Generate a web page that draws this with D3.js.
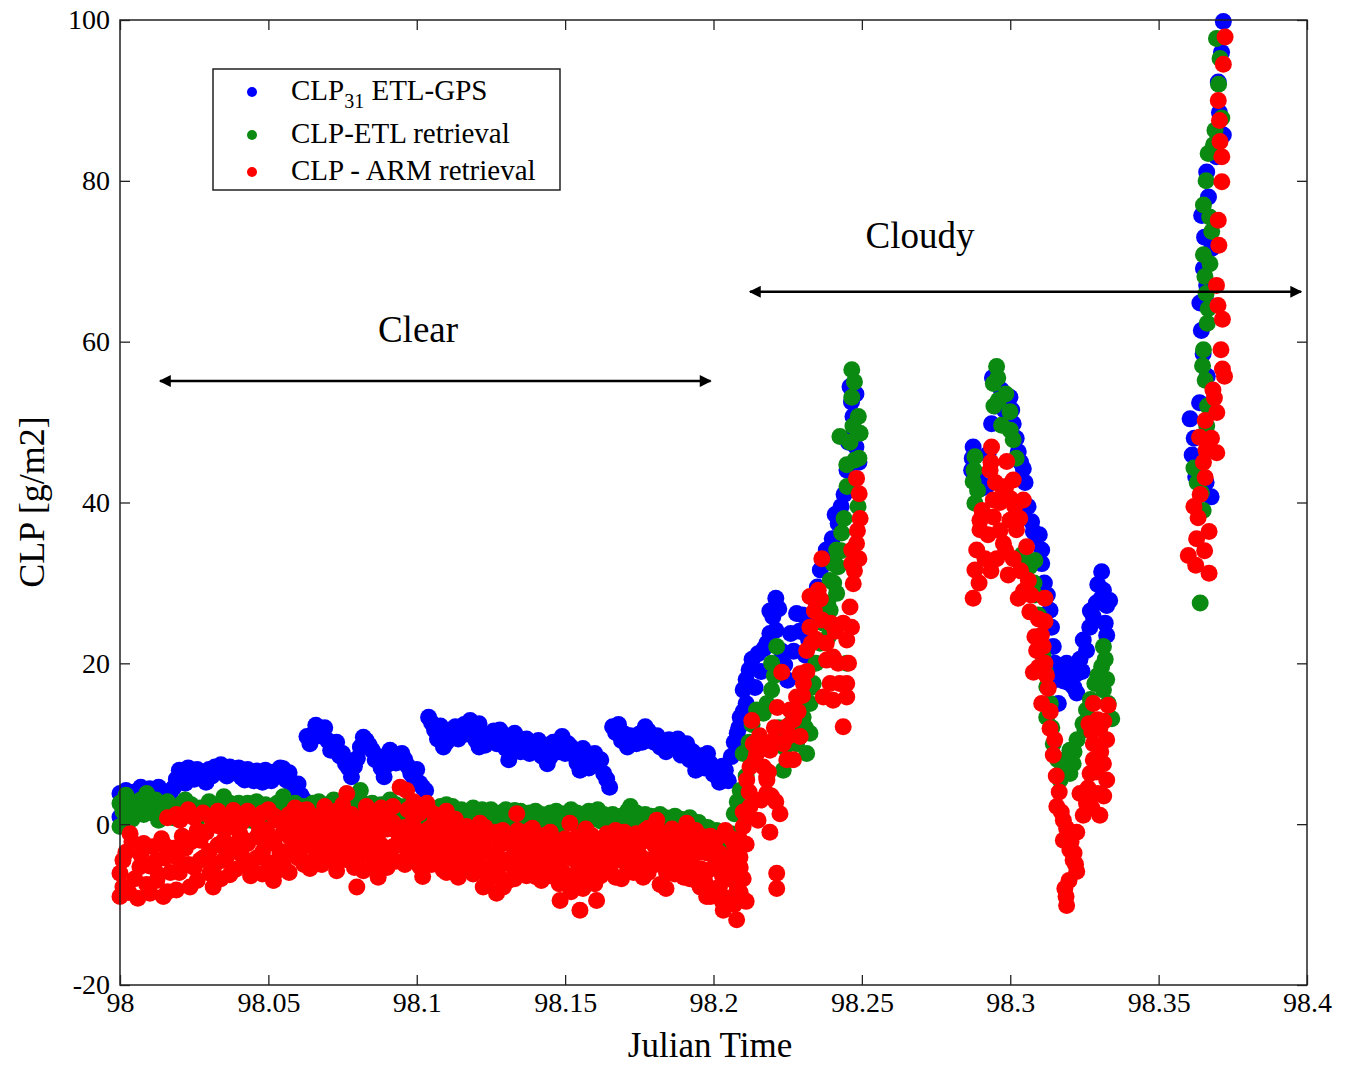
<!DOCTYPE html>
<html>
<head>
<meta charset="utf-8">
<script src="https://cdn.jsdelivr.net/npm/d3@7"></script>
<style>
  body { margin: 0; background: #fff; }
  svg { font-family: "Liberation Serif", "Times New Roman", serif; }
</style>
</head>
<body>
<div id="chart"></div>
<script>
// page size and the plot box inside it
const WIDTH = 1346, HEIGHT = 1067;
const PLOT = { LEFT: 120, RIGHT: 1307, TOP: 20, BOTTOM: 985 };

// axis ticks
const xTicks = [98, 98.05, 98.1, 98.15, 98.2, 98.25, 98.3, 98.35, 98.4];
const yTicks = [-20, 0, 20, 40, 60, 80, 100];

// [julian time, CLP g/m2]
const etlGps = [
  [98.000,0.9],[98.000,3.8],[98.003,3.5],[98.005,4.0],[98.008,4.2],[98.010,4.4],[98.012,3.9],[98.015,3.6],
  [98.018,4.5],[98.020,6.7],[98.022,5.1],[98.024,6.5],[98.027,5.9],[98.030,6.8],[98.032,7.1],[98.035,6.3],
  [98.037,7.1],[98.039,6.6],[98.042,5.5],[98.044,6.2],[98.047,6.3],[98.050,6.0],[98.052,6.5],[98.055,6.9],
  [98.056,5.5],[98.059,4.2],[98.061,3.6],[98.063,10.9],[98.064,10.0],[98.066,12.3],[98.068,11.5],[98.070,10.4],
  [98.072,9.6],[98.074,8.5],[98.076,7.5],[98.078,5.9],[98.081,9.6],[98.083,10.4],[98.085,9.2],[98.087,8.4],
  [98.089,5.9],[98.092,8.8],[98.094,8.2],[98.096,8.0],[98.098,6.3],[98.101,5.1],[98.103,4.2],[98.104,13.3],
  [98.106,11.7],[98.109,9.6],[98.111,11.0],[98.113,12.1],[98.115,11.5],[98.118,12.9],[98.121,12.5],[98.121,9.6],
  [98.124,10.4],[98.125,10.9],[98.128,11.7],[98.131,8.0],[98.133,11.3],[98.136,10.5],[98.139,10.0],[98.142,8.5],
  [98.144,7.5],[98.147,9.2],[98.149,10.9],[98.152,9.6],[98.155,6.7],[98.157,8.0],[98.159,8.4],[98.163,6.3],
  [98.165,4.6],[98.166,12.1],[98.169,10.4],[98.172,11.0],[98.174,10.0],[98.177,12.1],[98.179,11.0],[98.182,9.6],
  [98.185,10.5],[98.187,9.6],[98.191,10.0],[98.194,6.7],[98.196,8.5],[98.199,7.5],[98.201,6.0],[98.204,6.7],
  [98.206,8.4],[98.208,11.3],[98.209,13.3],[98.210,16.7],[98.211,15.0],[98.212,19.2],[98.215,21.2],[98.219,23.7],
  [98.220,25.8],[98.221,24.1],[98.221,28.1],[98.225,17.9],[98.226,23.7],[98.228,26.2],[98.231,21.0],[98.233,25.0],
  [98.236,31.6],[98.238,34.1],[98.239,33.0],[98.242,37.4],[98.243,39.5],[98.245,44.0],[98.246,54.4],[98.247,50.7],
  [98.248,46.9],
  [98.001,2.5],[98.002,4.2],[98.004,3.2],[98.006,3.8],[98.007,4.6],[98.009,3.6],[98.011,4.1],[98.013,4.6],
  [98.014,3.4],[98.016,4.0],[98.017,3.2],[98.019,5.6],[98.021,6.0],[98.023,7.0],[98.025,5.6],[98.026,6.8],
  [98.028,6.2],[98.029,5.2],[98.031,6.0],[98.033,6.6],[98.034,7.4],[98.036,6.0],[98.038,6.4],[98.040,7.0],
  [98.041,5.8],[98.043,6.8],[98.045,5.4],[98.046,6.6],[98.048,5.2],[98.049,6.7],[98.051,5.4],[98.053,6.0],
  [98.054,7.0],[98.057,6.4],[98.058,4.8],[98.060,5.0],[98.062,3.0],[98.065,11.2],[98.067,11.0],[98.069,12.0],
  [98.071,9.2],[98.073,10.2],[98.075,8.8],[98.077,7.0],[98.079,7.2],[98.080,8.2],[98.082,10.8],[98.084,9.8],
  [98.086,8.0],[98.088,7.0],[98.090,7.4],[98.091,9.2],[98.093,7.6],[98.095,8.8],[98.097,7.2],[98.099,5.8],
  [98.100,6.8],[98.102,4.6],[98.105,12.6],[98.107,10.6],[98.108,12.2],[98.110,10.2],[98.112,11.8],[98.114,10.6],
  [98.116,12.4],[98.117,11.2],[98.119,11.8],[98.120,10.4],[98.122,11.4],[98.123,9.8],[98.126,11.6],[98.127,10.0],
  [98.129,10.8],[98.130,9.4],[98.132,9.6],[98.134,10.4],[98.135,9.0],[98.137,10.6],[98.138,8.8],[98.140,9.2],
  [98.141,10.4],[98.143,9.8],[98.145,8.4],[98.146,10.2],[98.148,9.0],[98.150,8.8],[98.151,10.0],[98.153,8.6],
  [98.154,7.6],[98.156,9.4],[98.158,7.0],[98.160,8.8],[98.161,7.4],[98.162,8.0],[98.164,5.6],[98.167,11.4],
  [98.168,12.4],[98.170,11.2],[98.171,9.6],[98.173,10.8],[98.175,11.2],[98.176,10.2],[98.178,11.6],[98.180,10.2],
  [98.181,11.0],[98.183,10.2],[98.184,9.0],[98.186,9.8],[98.188,10.6],[98.189,8.6],[98.190,9.4],[98.192,8.0],
  [98.193,9.0],[98.195,7.6],[98.197,7.0],[98.198,8.8],[98.200,6.2],[98.202,5.2],[98.203,7.2],[98.205,5.4],
  [98.207,10.2],[98.2085,12.0],[98.210,14.0],[98.211,18.0],[98.213,20.5],[98.214,17.0],[98.216,19.0],[98.217,21.8],
  [98.218,22.5],[98.219,26.5],[98.222,26.8],[98.223,21.5],[98.224,19.8],[98.227,21.5],[98.229,24.0],[98.230,26.0],
  [98.232,23.0],[98.234,28.0],[98.235,29.5],[98.237,32.5],[98.240,35.5],[98.241,38.5],[98.244,41.0],[98.2455,47.5],
  [98.2465,52.5],[98.2475,49.0],[98.248,53.5],[98.249,45.0],
  [98.287,44.0],[98.2875,46.9],[98.292,42.0],[98.2937,49.8],[98.294,55.5],[98.2999,53.1],[98.301,49.8],[98.3027,46.3],
  [98.3044,44.2],[98.3072,37.6],[98.3089,35.7],[98.3106,34.1],[98.3106,32.4],[98.3134,26.6],[98.3139,24.5],[98.3145,22.1],
  [98.3162,15.0],[98.319,20.0],[98.3201,17.5],[98.3224,18.7],[98.3224,16.3],[98.3246,22.9],[98.3257,21.6],[98.3268,24.5],
  [98.328,25.8],[98.3308,31.4],[98.3314,29.1],[98.3325,27.2],[98.3325,23.5],
  [98.2872,45.5],[98.289,43.0],[98.2905,41.8],[98.2925,46.0],[98.295,52.0],[98.297,54.0],[98.298,51.5],[98.2995,50.5],
  [98.3005,51.5],[98.302,48.0],[98.3035,45.0],[98.305,42.5],[98.306,39.5],[98.3078,36.4],[98.3098,36.0],[98.3115,30.0],
  [98.3125,28.5],[98.315,20.0],[98.3155,18.0],[98.317,19.0],[98.318,17.8],[98.3195,18.5],[98.321,19.2],[98.3215,17.0],
  [98.3235,20.5],[98.3242,19.0],[98.327,26.5],[98.329,27.5],[98.3295,29.8],[98.3305,28.0],[98.332,25.0],[98.3335,27.8],
  [98.3718,99.8],[98.3701,92.3],[98.3718,85.7],[98.3662,81.1],[98.3645,75.7],[98.3679,71.6],[98.3651,69.1],[98.3639,64.8],
  [98.3657,65.3],[98.3644,61.4],[98.3664,55.7],[98.3638,52.4],[98.3606,50.4],[98.3613,45.9],[98.3677,40.7],
  [98.3712,96.0],[98.3705,88.5],[98.3695,83.0],[98.3668,78.0],[98.3655,73.0],[98.3662,67.0],[98.365,58.5],[98.362,48.0],
  [98.3625,43.2],[98.366,42.5]
];

const etlRetrieval = [
  [98.000,2.6],[98.000,-0.3],[98.003,1.0],[98.005,2.0],[98.007,3.0],[98.009,3.8],[98.011,1.4],[98.013,0.5],
  [98.015,1.8],[98.018,0.8],[98.021,2.6],[98.023,1.5],[98.026,0.6],[98.029,2.2],[98.032,1.0],[98.035,3.4],
  [98.038,1.5],[98.041,1.7],[98.044,0.5],[98.047,2.0],[98.050,1.0],[98.055,3.4],[98.058,1.8],[98.061,0.6],
  [98.065,2.6],[98.068,1.2],[98.072,3.0],[98.075,1.5],[98.081,4.2],[98.084,2.0],[98.087,0.8],[98.091,3.0],
  [98.095,1.6],[98.101,1.3],[98.105,0.4],[98.112,2.2],[98.116,0.8],[98.120,1.3],[98.123,0.1],[98.127,0.9],
  [98.133,1.7],[98.137,0.5],[98.144,0.9],[98.148,-0.2],[98.150,1.3],[98.155,0.4],[98.160,1.3],[98.165,0.2],
  [98.168,-0.3],[98.172,2.2],[98.176,0.8],[98.180,-0.7],[98.185,0.6],[98.190,0.5],[98.193,-0.6],[98.197,-0.8],
  [98.200,-1.6],[98.204,-2.8],[98.206,-1.2],[98.207,1.3],[98.209,4.2],[98.210,8.8],[98.2145,14.2],[98.2168,13.8],
  [98.2196,16.7],[98.2196,20.0],[98.2213,22.1],[98.2235,6.7],[98.2302,13.3],[98.2314,8.8],[98.2325,11.3],[98.2325,15.0],
  [98.2336,17.5],[98.2387,23.3],[98.2393,26.6],[98.2393,30.3],[98.2403,32.4],[98.2415,34.1],[98.2415,28.7],[98.2432,36.2],
  [98.2426,48.2],[98.2449,44.7],[98.2449,20.0],[98.2466,56.5],[98.2466,53.1],[98.2477,45.3],[98.2487,39.5],[98.2488,50.7],
  [98.2494,48.6],
  [98.001,1.6],[98.002,3.6],[98.004,0.6],[98.006,2.8],[98.008,1.2],[98.010,2.6],[98.012,3.0],[98.014,1.0],
  [98.016,2.8],[98.017,1.2],[98.019,2.0],[98.020,1.0],[98.022,3.0],[98.024,2.4],[98.025,1.0],[98.027,2.0],
  [98.028,1.2],[98.030,2.8],[98.031,1.6],[98.033,2.4],[98.034,0.8],[98.036,2.0],[98.037,2.6],[98.039,0.8],
  [98.040,2.6],[98.042,1.0],[98.043,2.6],[98.045,1.4],[98.046,2.8],[98.048,1.2],[98.049,2.4],[98.051,1.8],
  [98.052,0.6],[98.053,2.6],[98.054,1.4],[98.056,2.4],[98.057,1.0],[98.059,2.6],[98.060,1.4],[98.062,2.2],
  [98.063,1.0],[98.064,2.0],[98.066,1.8],[98.067,2.8],[98.069,1.4],[98.070,2.4],[98.071,1.2],[98.073,2.2],
  [98.074,0.8],[98.076,2.6],[98.077,1.2],[98.078,2.8],[98.079,1.6],[98.080,3.0],[98.082,2.6],[98.083,1.2],
  [98.085,2.6],[98.086,1.6],[98.088,2.4],[98.089,1.0],[98.090,2.0],[98.092,1.4],[98.093,2.4],[98.094,0.8],
  [98.096,2.2],[98.097,1.0],[98.098,2.6],[98.099,1.2],[98.100,2.0],[98.102,0.8],[98.103,2.2],[98.104,1.4],
  [98.106,1.8],[98.107,0.6],[98.108,2.2],[98.109,1.0],[98.110,2.4],[98.111,1.2],[98.113,1.6],[98.114,0.6],
  [98.115,1.8],[98.117,1.6],[98.118,0.4],[98.119,2.0],[98.121,0.8],[98.122,1.8],[98.124,1.0],[98.125,1.8],
  [98.126,0.2],[98.128,1.4],[98.129,0.6],[98.130,1.8],[98.131,0.8],[98.132,0.2],[98.134,1.0],[98.135,1.6],
  [98.136,0.2],[98.138,1.4],[98.139,0.6],[98.140,1.6],[98.141,0.4],[98.142,1.2],[98.143,0.2],[98.145,1.4],
  [98.146,0.6],[98.147,1.6],[98.149,0.6],[98.151,0.8],[98.152,1.8],[98.153,0.2],[98.154,1.4],[98.156,1.0],
  [98.157,0.0],[98.158,1.6],[98.159,0.6],[98.161,1.8],[98.162,0.4],[98.163,1.2],[98.164,0.2],[98.166,1.2],
  [98.167,0.2],[98.169,1.0],[98.170,0.2],[98.171,1.6],[98.173,0.6],[98.174,1.4],[98.175,0.2],[98.177,1.2],
  [98.178,0.0],[98.179,1.0],[98.181,0.2],[98.182,1.2],[98.183,-0.4],[98.184,0.8],[98.186,-0.2],[98.187,1.0],
  [98.188,-0.4],[98.189,0.6],[98.191,-0.2],[98.192,0.8],[98.194,-0.4],[98.195,0.2],[98.196,-1.0],[98.198,-0.4],
  [98.199,-1.4],[98.201,-0.8],[98.202,-2.0],[98.203,-1.2],[98.205,-2.4],[98.208,2.8],[98.211,6.0],[98.212,10.2],
  [98.213,12.4],[98.218,15.0],[98.2205,18.5],[98.222,12.0],[98.224,9.5],[98.226,12.5],[98.228,10.0],[98.229,15.5],
  [98.231,12.0],[98.233,17.0],[98.2345,20.0],[98.236,22.5],[98.237,25.0],[98.2385,27.5],[98.2405,30.0],[98.242,32.0],
  [98.243,34.0],[98.244,38.0],[98.245,42.0],[98.246,47.5],[98.247,49.5],[98.2475,55.0],[98.249,45.5],
  [98.2954,56.9],[98.2943,54.8],[98.296,52.7],[98.2999,51.3],[98.2971,49.6],[98.301,47.8],[98.2881,45.7],[98.2875,42.6],
  [98.2881,39.9],[98.3083,32.8],[98.3044,31.6],[98.3083,28.5],[98.3123,17.1],[98.3123,13.3],[98.3145,10.0],[98.3201,9.2],
  [98.3212,7.5],[98.3168,5.5],[98.3201,6.3],[98.3252,11.7],[98.3257,14.2],[98.3314,22.1],[98.3308,19.6],[98.3314,16.7],
  [98.3342,13.1],
  [98.2878,44.0],[98.289,41.5],[98.2945,52.0],[98.2958,55.5],[98.2985,53.5],[98.300,49.0],[98.302,45.5],[98.304,33.5],
  [98.3065,32.0],[98.308,30.0],[98.3095,26.0],[98.311,21.0],[98.3118,19.0],[98.3135,15.0],[98.314,12.0],[98.316,8.0],
  [98.3175,6.8],[98.319,8.0],[98.3215,9.0],[98.3225,10.5],[98.3245,12.5],[98.327,15.5],[98.3285,17.5],[98.3295,18.5],
  [98.332,20.5],[98.3325,18.0],[98.333,15.0],
  [98.3695,97.7],[98.3707,95.2],[98.3713,87.8],[98.369,86.3],[98.3667,83.4],[98.3651,77.0],[98.3679,73.7],[98.3651,70.8],
  [98.3673,69.7],[98.3656,68.1],[98.3667,64.1],[98.3664,62.3],[98.3651,59.0],[98.3657,55.2],[98.367,47.6],[98.3619,44.3],
  [98.3644,41.2],[98.364,27.5],
  [98.3702,92.0],[98.3685,84.5],[98.366,80.0],[98.3672,75.5],[98.366,66.0],[98.3648,57.0],[98.3665,52.0],[98.3662,49.5],
  [98.363,42.5],[98.365,39.0]
];

const armRetrieval = [
  [98.000,-6.1],[98.000,-9.0],[98.002,-3.5],[98.0034,-1.2],[98.005,-6.8],[98.0067,-5.3],[98.008,-2.4],[98.009,-7.5],
  [98.0101,-8.6],[98.012,-4.6],[98.0124,-7.0],[98.014,-1.8],[98.0146,-9.0],[98.0157,-2.8],[98.017,-6.0],[98.019,-8.2],
  [98.0191,-4.1],[98.0202,0.5],[98.022,-3.0],[98.0236,-7.8],[98.025,-5.4],[98.026,-0.8],[98.027,-2.0],[98.028,-4.2],
  [98.0303,-6.1],[98.0314,-7.8],[98.033,-2.6],[98.0348,-4.5],[98.036,-0.5],[98.037,-6.3],[98.0382,1.7],[98.039,-3.2],
  [98.0404,-1.2],[98.042,-2.0],[98.0427,-4.9],[98.044,0.8],[98.045,-6.0],[98.0461,-1.6],[98.048,-3.5],[98.0494,-0.7],
  [98.051,-1.8],[98.0517,-7.0],[98.053,0.5],[98.0539,-3.6],[98.055,-5.0],[98.0562,0.9],[98.057,-1.5],[98.0584,-2.8],
  [98.060,-4.2],[98.0607,1.7],[98.062,-0.8],[98.064,-5.5],[98.0651,-0.3],[98.0663,-3.6],[98.067,-1.2],[98.069,-4.0],
  [98.071,-2.3],[98.0719,0.5],[98.073,-5.8],[98.074,-1.0],[98.0753,-3.6],[98.0764,3.8],[98.077,-2.5],[98.0786,-0.7],
  [98.0798,-7.8],[98.080,-4.5],[98.082,-1.8],[98.0831,1.3],[98.084,-3.2],[98.0865,-5.3],[98.086,-0.4],[98.088,-2.6],
  [98.0899,1.3],[98.091,-4.0],[98.092,0.2],[98.094,-2.0],[98.0944,4.6],[98.0966,4.2],[98.097,-3.5],[98.0988,-1.6],
  [98.099,0.8],[98.100,-3.0],[98.1011,-5.3],[98.102,-6.5],[98.1034,2.6],[98.104,-0.6],[98.1056,-1.6],[98.107,-3.8],
  [98.108,-1.0],[98.1089,-5.7],[98.110,-2.2],[98.1112,-0.3],[98.112,-5.0],[98.1135,-3.2],[98.114,-1.4],[98.116,-4.8],
  [98.1168,-0.3],[98.118,-2.0],[98.119,-6.2],[98.1202,-2.8],[98.1213,0.1],[98.121,-4.0],[98.1224,-7.8],[98.124,-5.5],
  [98.125,-1.5],[98.1269,-8.6],[98.127,-3.8],[98.129,-0.8],[98.1292,-7.8],[98.131,-4.4],[98.1325,-5.3],[98.133,-6.8],
  [98.1337,1.3],[98.135,-2.0],[98.136,-4.0],[98.1382,-2.8],[98.139,-0.5],[98.140,-6.5],[98.142,-2.6],[98.1438,-5.3],
  [98.145,-1.0],[98.146,-3.8],[98.1483,-9.5],[98.149,-5.8],[98.150,-1.8],[98.1516,0.1],[98.152,-3.5],[98.153,-7.0],
  [98.155,-10.7],[98.155,-6.1],[98.156,-3.0],[98.157,-0.6],[98.1584,-2.8],[98.159,-5.2],[98.1606,-9.5],[98.161,-2.4],
  [98.162,-6.4],[98.164,-1.2],[98.165,-2.0],[98.167,-0.8],[98.1685,-4.5],[98.169,-6.8],[98.170,-2.5],[98.172,-4.6],
  [98.174,-1.2],[98.175,-3.8],[98.1763,-6.6],[98.178,-0.5],[98.179,-4.8],[98.180,-2.6],[98.1809,0.5],[98.182,-7.5],
  [98.183,-1.4],[98.1842,-6.1],[98.186,-4.0],[98.187,-2.0],[98.1887,-2.8],[98.189,-5.5],[98.191,0.1],[98.191,-1.5],
  [98.192,-6.8],[98.1932,-3.6],[98.194,-0.8],[98.1955,-7.8],[98.196,-3.5],[98.1977,-9.0],[98.198,-5.8],[98.199,-1.5],
  [98.200,-3.0],[98.2011,-5.3],[98.202,-7.8],[98.2033,-10.7],[98.204,-4.2],[98.205,-9.2],[98.206,-1.8],[98.2067,-7.0],
  [98.2078,-11.9],[98.208,-6.0],[98.2089,-4.1],[98.209,-8.5],[98.210,-0.3],[98.210,1.5],[98.211,-2.5],[98.2112,5.5],
  [98.001,-4.5],[98.001,-7.8],[98.003,-8.5],[98.004,-2.2],[98.006,-9.2],[98.007,-3.8],[98.010,-5.2],[98.011,-2.8],
  [98.013,-6.3],[98.015,-4.2],[98.016,-8.4],[98.018,-3.0],[98.020,-6.0],[98.021,-1.5],[98.023,-5.0],[98.024,-2.2],
  [98.026,-7.0],[98.027,-4.5],[98.029,-1.0],[98.030,-3.4],[98.032,-5.0],[98.033,-0.2],[98.034,-6.8],[98.035,-2.0],
  [98.036,-4.0],[98.038,-2.6],[98.039,-5.6],[98.041,0.2],[98.041,-3.8],[98.043,-2.4],[98.044,-6.4],[98.046,-4.2],
  [98.047,-0.6],[98.048,-6.2],[98.049,-2.6],[98.050,-4.8],[98.052,-2.4],[98.053,-5.8],[98.055,-1.0],[98.056,-3.4],
  [98.057,-6.0],[98.058,0.4],[98.059,-2.0],[98.060,-1.0],[98.061,-3.2],[98.062,-5.0],[98.063,0.8],[98.064,-2.4],
  [98.065,-4.6],[98.066,-1.0],[98.068,-2.8],[98.068,-5.0],[98.070,-0.6],[98.070,-3.6],[98.072,-1.4],[98.072,-4.6],
  [98.074,-3.0],[98.075,0.0],[98.076,-4.4],[98.077,-1.0],[98.078,-3.2],[98.079,-5.4],[98.080,-1.4],[98.081,-3.0],
  [98.082,-5.8],[98.083,-0.2],[98.084,-2.0],[98.085,-4.2],[98.086,-2.4],[98.087,-6.6],[98.087,-1.2],[98.089,-3.6],
  [98.090,-0.6],[98.090,-5.4],[98.092,-2.8],[98.093,-4.6],[98.093,-0.8],[98.095,-2.6],[98.096,-5.0],[98.096,-0.4],
  [98.098,-2.2],[98.098,-4.0],[98.100,-0.8],[98.101,-2.6],[98.102,-4.2],[98.103,-1.0],[98.104,-3.0],[98.105,-5.0],
  [98.106,-2.4],[98.106,0.2],[98.108,-4.6],[98.109,-2.0],[98.110,-6.0],[98.111,-3.4],[98.112,-1.6],[98.113,-4.4],
  [98.114,-6.6],[98.115,-2.6],[98.116,-1.0],[98.117,-3.4],[98.118,-5.6],[98.119,-0.8],[98.120,-4.4],[98.121,-2.0],
  [98.122,-5.8],[98.123,-3.2],[98.123,-0.4],[98.124,-7.0],[98.125,-3.6],[98.126,-5.6],[98.127,-1.0],[98.128,-6.6],
  [98.128,-2.6],[98.130,-4.8],[98.130,-1.8],[98.131,-7.0],[98.132,-2.6],[98.134,-4.0],[98.134,-0.8],[98.135,-5.6],
  [98.136,-1.8],[98.137,-6.4],[98.138,-3.8],[98.138,-0.8],[98.139,-5.2],[98.140,-2.4],[98.141,-4.0],[98.142,-7.0],
  [98.143,-1.4],[98.144,-3.6],[98.145,-6.4],[98.146,-1.8],[98.147,-5.0],[98.148,-2.8],[98.148,-7.4],[98.150,-4.0],
  [98.151,-6.6],[98.151,-2.2],[98.152,-8.4],[98.153,-4.4],[98.154,-1.6],[98.154,-6.0],[98.156,-8.0],[98.156,-4.6],
  [98.157,-2.8],[98.158,-6.8],[98.159,-1.4],[98.160,-3.8],[98.160,-7.4],[98.162,-4.2],[98.163,-1.8],[98.163,-6.0],
  [98.164,-3.4],[98.165,-5.6],[98.166,-1.6],[98.166,-3.8],[98.167,-6.6],[98.168,-2.6],[98.169,-4.2],[98.170,-1.0],
  [98.171,-5.8],[98.171,-3.2],[98.172,-1.8],[98.173,-6.0],[98.174,-3.4],[98.175,-5.8],[98.176,-2.2],[98.177,-4.4],
  [98.177,-0.8],[98.178,-6.0],[98.179,-2.0],[98.180,-5.0],[98.181,-3.6],[98.181,-0.6],[98.182,-5.0],[98.183,-3.0],
  [98.184,-8.0],[98.185,-2.0],[98.185,-5.2],[98.186,-0.6],[98.187,-6.2],[98.188,-4.2],[98.189,-1.6],[98.190,-3.6],
  [98.190,-6.6],[98.192,-2.6],[98.193,-5.0],[98.194,-7.0],[98.195,-2.0],[98.196,-5.6],[98.197,-1.6],[98.197,-7.0],
  [98.198,-3.6],[98.199,-9.0],[98.200,-5.4],[98.201,-1.8],[98.201,-8.0],[98.202,-3.6],[98.203,-6.4],[98.203,-9.6],
  [98.204,-0.8],[98.205,-6.0],[98.206,-4.2],[98.207,-10.0],[98.207,-2.6],[98.208,-8.2],[98.209,-5.4],[98.209,-2.0],
  [98.210,-6.8],[98.211,-9.6],[98.211,1.0],
  [98.016,0.8],[98.019,1.2],[98.023,1.8],[98.025,0.8],[98.028,1.4],[98.031,0.6],[98.033,1.6],[98.037,1.0],
  [98.040,1.2],[98.043,1.6],[98.046,0.4],[98.048,1.4],[98.050,1.8],[98.052,1.0],[98.057,1.2],[98.059,2.0],
  [98.063,1.8],[98.067,1.0],[98.069,2.2],[98.071,1.0],[98.073,1.6],[98.075,2.4],[98.078,1.2],[98.080,0.6],
  [98.083,2.2],[98.085,0.8],[98.088,2.0],[98.090,1.0],[98.092,2.2],[98.097,1.8],[98.099,2.8],[98.101,1.4],
  [98.104,1.8],[98.106,1.2],[98.108,1.0],[98.110,1.6],[98.113,0.6],
  [98.212,4.0],[98.2123,2.2],[98.2123,7.1],[98.2129,12.9],[98.2134,10.0],[98.214,8.0],[98.215,0.5],[98.216,3.0],
  [98.2168,7.1],[98.2179,5.9],[98.2179,3.8],[98.218,5.5],[98.219,-1.0],[98.219,9.2],[98.2202,10.4],[98.221,2.8],
  [98.2213,-6.1],[98.2213,-8.0],[98.2224,1.3],[98.223,18.9],[98.2247,11.7],[98.2247,8.0],[98.2247,12.1],[98.2258,14.2],
  [98.2269,8.0],[98.228,15.8],[98.2292,18.7],[98.2292,10.9],[98.2303,17.5],[98.2314,21.6],[98.2325,28.3],[98.2325,24.5],
  [98.2353,29.1],[98.2365,33.0],[98.2365,25.4],[98.237,15.8],[98.2381,20.4],[98.2393,17.5],[98.2403,20.8],[98.2403,15.4],
  [98.2437,25.0],[98.2437,12.1],[98.2449,22.9],[98.2449,17.5],[98.2449,15.8],[98.246,27.0],[98.2466,34.1],[98.2466,32.4],
  [98.2471,29.9],[98.2482,34.9],[98.2482,43.0],[98.2491,41.1],[98.2494,38.0],
  [98.2145,8.8],[98.2155,11.0],[98.217,9.5],[98.2185,6.5],[98.2195,3.5],[98.2205,12.0],[98.2215,14.5],[98.2235,10.0],
  [98.2255,11.0],[98.227,13.0],[98.2285,14.0],[98.230,16.0],[98.2315,19.0],[98.233,22.5],[98.234,26.5],[98.2345,23.0],
  [98.236,28.0],[98.238,22.5],[98.2395,25.0],[98.241,24.0],[98.242,20.0],[98.2425,17.5],[98.2455,20.0],[98.2465,24.5],
  [98.2475,31.5],[98.2485,36.5],[98.249,33.0],
  [98.2937,46.9],[98.2988,45.1],[98.2932,44.0],[98.301,42.8],[98.2977,41.5],[98.2943,40.3],[98.3044,40.3],[98.2898,37.8],
  [98.2999,37.8],[98.2943,38.2],[98.2898,36.6],[98.3021,36.6],[98.2977,34.9],[98.2887,34.1],[98.3055,34.5],[98.2954,33.0],
  [98.2881,31.6],[98.2993,31.0],[98.3061,30.3],[98.2875,28.1],[98.3027,28.1],[98.3117,28.1],[98.3066,26.4],[98.3117,25.2],
  [98.3083,23.3],[98.3111,22.1],[98.3089,21.6],[98.3117,20.0],[98.3078,18.9],[98.3128,16.9],[98.3106,15.0],[98.3134,11.9],
  [98.3145,8.6],[98.328,15.0],[98.333,14.8],[98.3302,11.9],[98.328,10.0],[98.328,8.0],[98.3314,7.5],[98.3269,6.3],
  [98.3325,5.5],[98.3235,3.8],[98.3257,2.6],[98.3302,1.1],[98.3246,1.1],[98.3157,2.2],[98.3179,0.5],[98.3224,-1.0],
  [98.3179,-2.0],[98.3201,-3.2],[98.3212,-4.5],[98.3224,-5.9],[98.3184,-8.0],[98.319,-10.1],
  [98.2935,45.0],[98.295,42.5],[98.2965,40.0],[98.2985,42.0],[98.3,40.5],[98.3015,39.5],[98.3032,38.0],[98.2905,39.0],
  [98.2925,36.0],[98.2915,33.0],[98.2965,36.5],[98.2985,34.0],[98.301,33.0],[98.3035,31.5],[98.2895,30.0],[98.2935,31.5],
  [98.3045,29.0],[98.307,28.5],[98.3095,25.5],[98.3105,23.5],[98.3095,19.5],[98.3122,18.5],[98.3135,14.0],[98.315,10.5],
  [98.3155,6.0],[98.3165,4.0],[98.3172,1.5],[98.319,-0.5],[98.3195,-1.5],[98.3205,-2.2],[98.3215,-3.6],[98.322,-5.0],
  [98.3198,-7.0],[98.3188,-9.0],[98.3265,12.5],[98.3275,11.5],[98.3295,13.0],[98.3315,12.8],[98.3325,10.5],[98.3305,9.0],
  [98.329,6.5],[98.3295,3.8],[98.3275,2.0],[98.3262,4.5],[98.3315,3.5],
  [98.3724,97.9],[98.3701,90.0],[98.3707,84.9],[98.3713,83.0],[98.3713,79.9],[98.3701,75.1],[98.3695,67.0],[98.3715,62.8],
  [98.3715,56.6],[98.3722,55.7],[98.3683,54.0],[98.3696,51.2],[98.3657,50.2],[98.3638,48.1],[98.3696,46.2],[98.3651,45.0],
  [98.3657,43.1],[98.3619,39.5],[98.3633,38.1],[98.367,36.4],[98.36,33.4],[98.3625,32.2],[98.367,31.2],
  [98.3718,94.5],[98.3705,87.5],[98.3703,72.0],[98.370,64.5],[98.371,59.0],[98.3688,53.0],[98.3678,48.0],[98.366,46.5],
  [98.364,41.0],[98.3628,35.5],[98.3655,34.0]
];

// annotation arrows: [from time, to time, CLP level]
const clearSpan = [98.0135, 98.199, 55.1];
const cloudySpan = [98.2123, 98.398, 66.2];

const series = [
  { name: "etl-gps", data: etlGps, color: "#0000ff" },
  { name: "etl", data: etlRetrieval, color: "#0b8a12" },
  { name: "arm", data: armRetrieval, color: "#ff0000" }
];

const svg = d3.select("#chart")
  .append("svg")
  .attr("width", WIDTH)
  .attr("height", HEIGHT);

const x = d3.scaleLinear().domain([98, 98.4]).range([PLOT.LEFT, PLOT.RIGHT]);
const y = d3.scaleLinear().domain([-20, 100]).range([PLOT.BOTTOM, PLOT.TOP]);

// arrow head
svg.append("defs").append("marker")
  .attr("id", "head")
  .attr("viewBox", "0 0 10 10")
  .attr("refX", 9).attr("refY", 5)
  .attr("markerWidth", 7).attr("markerHeight", 4.6)
  .attr("markerUnits", "strokeWidth")
  .attr("orient", "auto-start-reverse")
  .append("path")
  .attr("d", "M0,0 L10,5 L0,10 Z")
  .attr("fill", "#000");

// points, blue first, red on top
series.forEach(s => {
  svg.append("g")
    .selectAll("circle")
    .data(s.data)
    .join("circle")
    .attr("cx", d => x(d[0]))
    .attr("cy", d => y(d[1]))
    .attr("r", 8.5)
    .attr("fill", s.color);
});

// axes, ticks point inward on all four sides
const fmt = d => String(+d.toFixed(2));
const styleAxis = g => {
  g.select(".domain").remove();
  g.selectAll("line").attr("stroke", "#222").attr("stroke-width", 1.3);
  g.selectAll("text").attr("font-family", "Liberation Serif, Times New Roman, serif")
    .attr("font-size", 28).attr("fill", "#000");
};

svg.append("g")
  .attr("transform", `translate(0,${PLOT.BOTTOM})`)
  .call(d3.axisBottom(x).tickValues(xTicks).tickFormat(fmt).tickSize(-10).tickSizeOuter(0).tickPadding(7))
  .call(styleAxis);

svg.append("g")
  .attr("transform", `translate(0,${PLOT.TOP})`)
  .call(d3.axisTop(x).tickValues(xTicks).tickFormat("").tickSize(-10).tickSizeOuter(0))
  .call(styleAxis);

svg.append("g")
  .attr("transform", `translate(${PLOT.LEFT},0)`)
  .call(d3.axisLeft(y).tickValues(yTicks).tickFormat(fmt).tickSize(-10).tickSizeOuter(0).tickPadding(10))
  .call(styleAxis);

svg.append("g")
  .attr("transform", `translate(${PLOT.RIGHT},0)`)
  .call(d3.axisRight(y).tickValues(yTicks).tickFormat("").tickSize(-10).tickSizeOuter(0))
  .call(styleAxis);

// frame
svg.append("rect")
  .attr("x", PLOT.LEFT).attr("y", PLOT.TOP)
  .attr("width", PLOT.RIGHT - PLOT.LEFT)
  .attr("height", PLOT.BOTTOM - PLOT.TOP)
  .attr("fill", "none")
  .attr("stroke", "#222")
  .attr("stroke-width", 1.5);

// axis titles
svg.append("text")
  .attr("x", 710)
  .attr("y", 1057)
  .attr("text-anchor", "middle")
  .attr("font-size", 35)
  .text("Julian Time");

svg.append("text")
  .attr("transform", "rotate(-90)")
  .attr("x", -502)
  .attr("y", 44)
  .attr("text-anchor", "middle")
  .attr("font-size", 36)
  .text("CLP [g/m2]");

// clear / cloudy annotations
[clearSpan, cloudySpan].forEach(a => {
  svg.append("line")
    .attr("x1", x(a[0])).attr("x2", x(a[1]))
    .attr("y1", y(a[2])).attr("y2", y(a[2]))
    .attr("stroke", "#000")
    .attr("stroke-width", 2.6)
    .attr("marker-start", "url(#head)")
    .attr("marker-end", "url(#head)");
});

svg.append("text")
  .attr("x", 418)
  .attr("y", 342)
  .attr("text-anchor", "middle")
  .attr("font-size", 37)
  .text("Clear");

svg.append("text")
  .attr("x", 920)
  .attr("y", 248)
  .attr("text-anchor", "middle")
  .attr("font-size", 37)
  .text("Cloudy");

// legend
const legend = svg.append("g");
legend.append("rect")
  .attr("x", 213).attr("y", 69)
  .attr("width", 347).attr("height", 121)
  .attr("fill", "#fff")
  .attr("stroke", "#222")
  .attr("stroke-width", 1.5);

const rows = [100, 143, 180];
series.forEach((s, i) => {
  legend.append("circle")
    .attr("cx", 252).attr("cy", rows[i] - 8)
    .attr("r", 5)
    .attr("fill", s.color);
});

const t0 = legend.append("text").attr("x", 291).attr("y", rows[0]).attr("font-size", 29);
t0.append("tspan").text("CLP");
t0.append("tspan").attr("dy", 8).attr("font-size", 20).text("31");
t0.append("tspan").attr("dy", -8).text(" ETL-GPS");

legend.append("text").attr("x", 291).attr("y", rows[1]).attr("font-size", 29).text("CLP-ETL retrieval");
legend.append("text").attr("x", 291).attr("y", rows[2]).attr("font-size", 29).text("CLP - ARM retrieval");
</script>
</body>
</html>
